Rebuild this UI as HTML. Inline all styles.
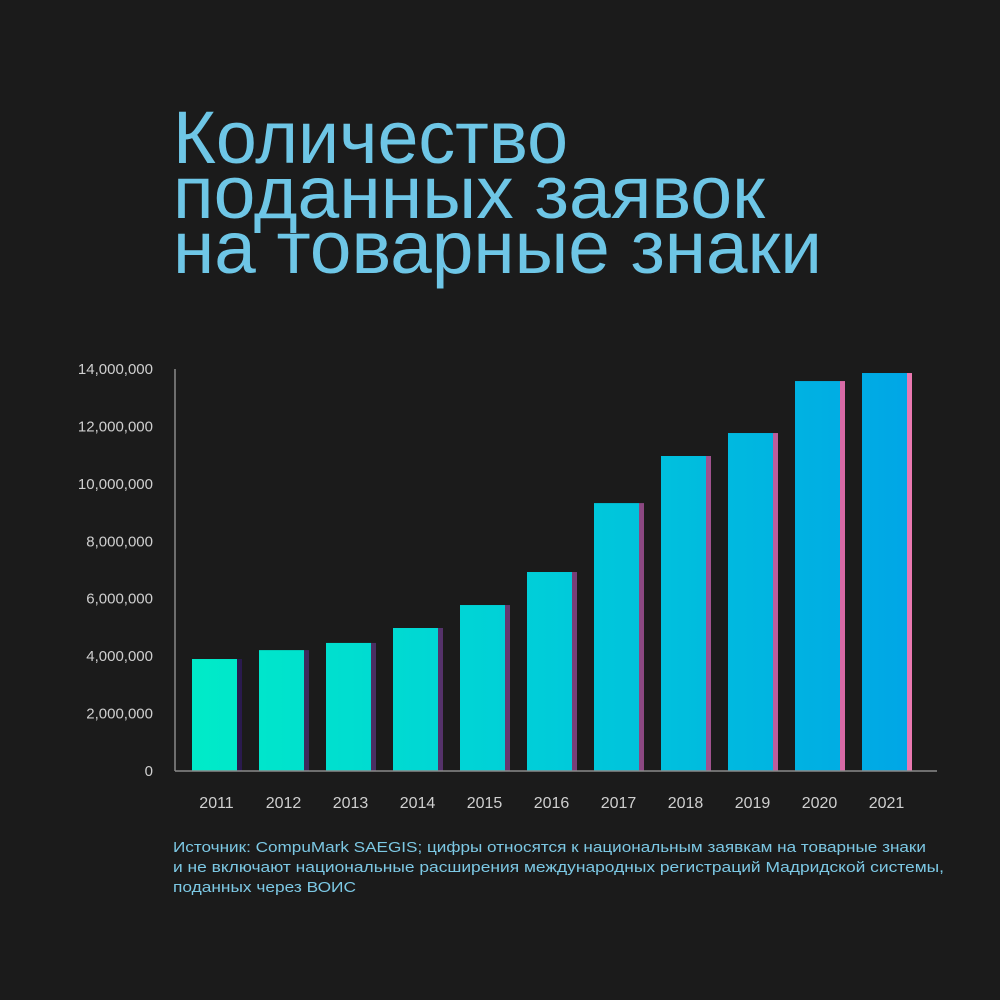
<!DOCTYPE html>
<html><head><meta charset="utf-8"><style>
html,body{margin:0;padding:0;background:#1b1b1b;}
svg{display:block;}
</style></head><body>
<svg id="chart" width="1000" height="1000" viewBox="0 0 1000 1000" xmlns="http://www.w3.org/2000/svg">
<defs>
<linearGradient id="barGrad" gradientUnits="userSpaceOnUse" x1="190" y1="0" x2="910" y2="0">
<stop offset="0" stop-color="#00ebc8"/><stop offset="0.45" stop-color="#00d0d8"/><stop offset="1" stop-color="#00a6e6"/>
</linearGradient>
</defs>
<rect x="0" y="0" width="1000" height="1000" fill="#1b1b1b"/>
<g font-family="'Liberation Sans', 'DejaVu Sans', sans-serif" font-size="74" fill="#6ec6e6">
<text x="173" y="163" textLength="395" lengthAdjust="spacingAndGlyphs">Количество</text>
<text x="173" y="218" textLength="592" lengthAdjust="spacingAndGlyphs">поданных заявок</text>
<text x="173" y="273" textLength="649" lengthAdjust="spacingAndGlyphs">на товарные знаки</text>
</g>
<g id="yaxis"></g>
<g id="bars"></g>
<g id="xaxis"></g>
<g font-family="'Liberation Sans', 'DejaVu Sans', sans-serif" font-size="15" fill="#7cc8e4">
<text x="173" y="852" textLength="753" lengthAdjust="spacingAndGlyphs">Источник: CompuMark SAEGIS; цифры относятся к национальным заявкам на товарные знаки</text>
<text x="173" y="872" textLength="771" lengthAdjust="spacingAndGlyphs">и не включают национальные расширения международных регистраций Мадридской системы,</text>
<text x="173" y="892" textLength="183" lengthAdjust="spacingAndGlyphs">поданных через ВОИС</text>
</g>
</svg>
<script>
const categories = ['2011','2012','2013','2014','2015','2016','2017','2018','2019','2020','2021'];
const values = [3900000,4210000,4460000,4980000,5780000,6930000,9330000,10970000,11770000,13580000,13860000];
const tickValues = [0,2000000,4000000,6000000,8000000,10000000,12000000,14000000];
const tickLabels = ['0','2,000,000','4,000,000','6,000,000','8,000,000','10,000,000','12,000,000','14,000,000'];
const sideColors = ['#2a1a4e','#3d2a5c','#4a2f62','#55326a','#66386f','#783f78','#8c4882','#a0528e','#bc5e9c','#d86aa6','#ea78b0'];

const NS='http://www.w3.org/2000/svg';
const y0=771, yTop=369, maxV=14000000, x0=192, pitch=67, bw=45, sw=5;
function yScale(v){return y0-(v/maxV)*(y0-yTop);}
function xScale(i){return x0+i*pitch;}
function mk(tag,attrs,parent){const e=document.createElementNS(NS,tag);for(const k in attrs)e.setAttribute(k,attrs[k]);parent.appendChild(e);return e;}

const yaxis=document.getElementById('yaxis'), bars=document.getElementById('bars'), xaxis=document.getElementById('xaxis');
tickValues.forEach((v,i)=>{
  const t=mk('text',{x:153,y:yScale(v)+5,'text-anchor':'end','font-family':"'Liberation Sans', sans-serif",'font-size':15,fill:'#cfcfcf'},yaxis);
  t.textContent=tickLabels[i];
  
  
});
const yl=mk('line',{x1:175,y1:yTop,x2:175,y2:y0,stroke:'#8a8a8a','stroke-width':1.5},yaxis);



values.forEach((v,i)=>{
  const x=xScale(i), y=yScale(v);
  const g=mk('g',{},bars);
  
  
  mk('rect',{x:x,y:y,width:bw,height:y0-y,fill:'url(#barGrad)'},g);
  mk('rect',{x:x+bw,y:y,width:sw,height:y0-y,fill:sideColors[i]},g);
  const t=mk('text',{x:x+bw/2+2,y:808,'text-anchor':'middle','font-family':"'Liberation Sans', sans-serif",'font-size':16,fill:'#cfcfcf'},xaxis);
  t.textContent=categories[i];
  
  
});
const xl=mk('line',{x1:175,y1:y0,x2:937,y2:y0,stroke:'#8a8a8a','stroke-width':1.5},xaxis);


</script>
</body></html>
